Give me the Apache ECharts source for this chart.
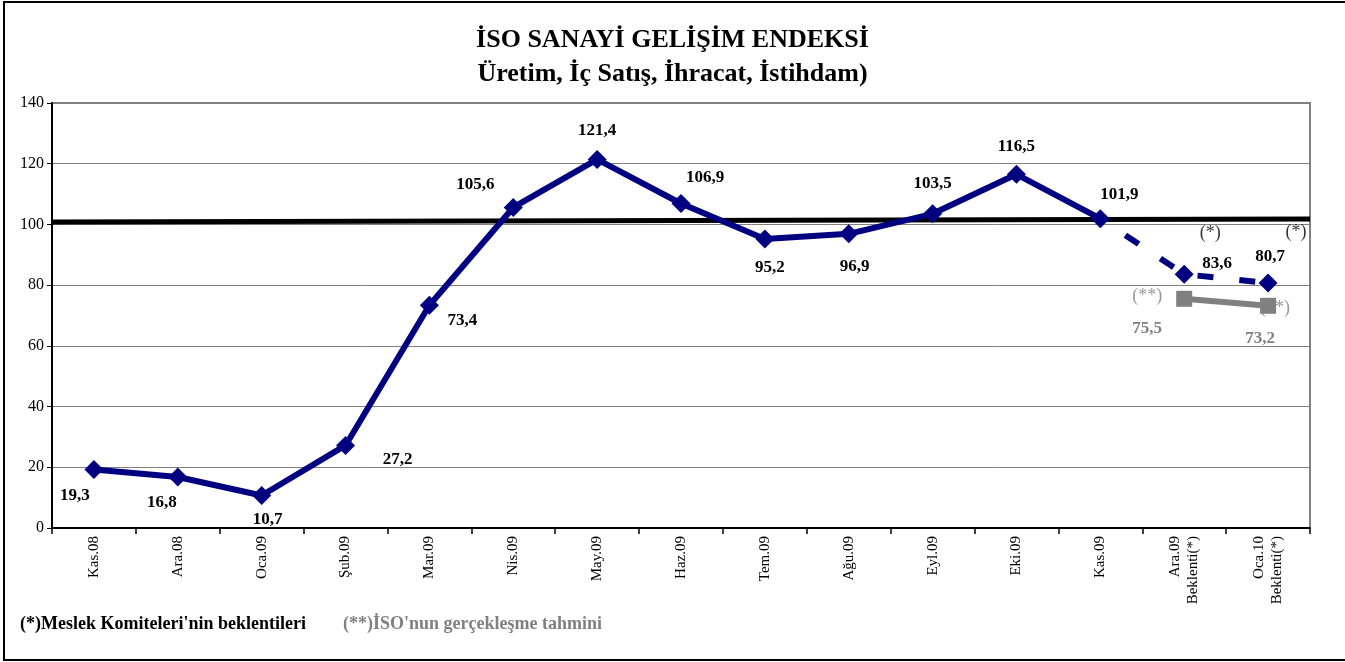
<!DOCTYPE html>
<html>
<head>
<meta charset="utf-8">
<script src="https://cdn.jsdelivr.net/npm/echarts@6/dist/echarts.min.js"></script>
<style>
  html, body { margin: 0; padding: 0; background: #fff; }
  #chart { width: 1345px; height: 662px; }
</style>
</head>
<body>
<div id="chart"></div>
<script>
// kategoriler (x ekseni)
const categories = ['Kas.08', 'Ara.08', 'Oca.09', 'Şub.09', 'Mar.09', 'Nis.09', 'May.09',
  'Haz.09', 'Tem.09', 'Ağu.09', 'Eyl.09', 'Eki.09', 'Kas.09',
  'Ara.09\nBeklenti(*)', 'Oca.10\nBeklenti(*)'];

// gerceklesen endeks degerleri
const actual = [19.3, 16.8, 10.7, 27.2, 73.4, 105.6, 121.4, 106.9, 95.2, 96.9, 103.5, 116.5, 101.9];
// (*) meslek komiteleri beklentileri
const expected = [83.6, 80.7];
// (**) ISO gerceklesme tahmini
const estimate = [75.5, 73.2];
// kalin siyah referans cizgisi (sol, sag)
const refLine = [100.8, 101.8];

const yTicks = { min: 0, max: 140, interval: 20 };

// etiket kaydirmalari (px)
const actualOffsets = [[-19, 26], [-16, 26], [6, 24], [52, 14], [33, 15], [-38, -23], [0, -29],
  [24, -26], [5, 29], [6, 33], [0, -30], [0, -28], [19, -24]];
const expectedOffsets = [[33, -11], [2, -26]];
const estimateOffsets = [[-37, 30], [-8, 33]];
const starOffsets = [[26, -41], [28, -51]];
const star2Offsets = [[-37, -3], [7, 2]];

const NAVY = '#000080';
const GREY = '#808080';
const SERIF = '"Liberation Serif", "Times New Roman", serif';

const fmt = v => v.toFixed(1).replace('.', ',');
const pad = n => Array(n).fill('-');

const nFirst = actual.length;
const nTail = categories.length - nFirst;

const actualData = actual.map((v, i) => ({
  value: v,
  label: { offset: actualOffsets[i] }
})).concat(pad(nTail));

const dashedData = pad(nFirst - 1)
  .concat([{ value: actual[nFirst - 1], symbolSize: 0, label: { show: false } }])
  .concat(expected.map((v, i) => ({ value: v, label: { offset: expectedOffsets[i] } })));

const estimateData = pad(nFirst).concat(estimate.map((v, i) => ({
  value: v,
  label: { offset: estimateOffsets[i] }
})));

const noteStarData = pad(nFirst).concat(expected.map((v, i) => ({
  value: v, label: { offset: starOffsets[i] }
})));
const noteStar2Data = pad(nFirst).concat(estimate.map((v, i) => ({
  value: v, label: { offset: star2Offsets[i] }
})));

const labelBase = {
  show: true,
  position: 'inside',
  fontFamily: SERIF,
  fontWeight: 'bold',
  fontSize: 17,
  color: '#000',
  formatter: p => fmt(p.value)
};

const chart = echarts.init(document.getElementById('chart'));

chart.setOption({
  backgroundColor: '#fff',
  animation: false,
  title: {
    text: 'İSO SANAYİ GELİŞİM ENDEKSİ',
    subtext: 'Üretim, İç Satış, İhracat, İstihdam)',
    left: 'center',
    top: 22,
    itemGap: 8,
    textStyle: { fontFamily: SERIF, fontWeight: 'bold', fontSize: 26, color: '#000' },
    subtextStyle: { fontFamily: SERIF, fontWeight: 'bold', fontSize: 26, color: '#000' }
  },
  graphic: [
    {
      type: 'rect',
      shape: { x: 4, y: 2, width: 1360, height: 658 },
      style: { fill: 'none', stroke: '#000', lineWidth: 2 },
      silent: true
    },
    {
      type: 'text', left: 20, top: 615,
      style: { text: "(*)Meslek Komiteleri'nin beklentileri", font: 'bold 18px ' + SERIF, fill: '#000' }
    },
    {
      type: 'text', left: 343, top: 615,
      style: { text: "(**)İSO'nun gerçekleşme tahmini", font: 'bold 18px ' + SERIF, fill: GREY }
    }
  ],
  grid: {
    left: 52, right: 35, top: 103, bottom: 134,
    show: true, borderColor: GREY, borderWidth: 2, backgroundColor: '#fff'
  },
  xAxis: [
    {
      type: 'category',
      data: categories,
      boundaryGap: true,
      axisLine: { lineStyle: { color: '#000', width: 2 } },
      axisTick: { show: true, length: 6, lineStyle: { color: '#000', width: 1.5 } },
      axisLabel: {
        rotate: 90, margin: 8, interval: 0,
        fontFamily: SERIF, fontSize: 15, color: '#000', lineHeight: 18
      },
      splitLine: { show: false }
    },
    { type: 'value', min: 0, max: 1, show: false }
  ],
  yAxis: {
    type: 'value',
    min: yTicks.min, max: yTicks.max, interval: yTicks.interval,
    axisLine: { show: true, lineStyle: { color: '#000', width: 2 } },
    axisTick: { show: true, length: 5, lineStyle: { color: '#000' } },
    axisLabel: { fontFamily: SERIF, fontSize: 16, color: '#000', margin: 8 },
    splitLine: { lineStyle: { color: GREY, width: 1 } }
  },
  series: [
    {
      name: 'ref',
      type: 'line',
      xAxisIndex: 1,
      data: [[0, refLine[0]], [1, refLine[1]]],
      symbol: 'none',
      lineStyle: { color: '#000', width: 5 },
      z: 1
    },
    {
      name: 'endeks',
      type: 'line',
      data: actualData,
      symbol: 'diamond',
      symbolSize: 19,
      itemStyle: { color: NAVY },
      lineStyle: { color: NAVY, width: 6 },
      label: labelBase,
      z: 3
    },
    {
      name: 'beklenti',
      type: 'line',
      data: dashedData,
      symbol: 'diamond',
      symbolSize: 19,
      itemStyle: { color: NAVY },
      lineStyle: { color: NAVY, width: 6, type: [16, 26], dashOffset: -30 },
      label: labelBase,
      z: 3
    },
    {
      name: 'notlar*',
      type: 'scatter',
      data: noteStarData,
      symbolSize: 0,
      label: {
        show: true, position: 'inside', fontFamily: SERIF, fontSize: 18, color: '#000',
        formatter: '(*)'
      },
      z: 2
    },
    {
      name: 'notlar**',
      type: 'scatter',
      data: noteStar2Data,
      symbolSize: 0,
      label: {
        show: true, position: 'inside', fontFamily: SERIF, fontSize: 18, color: GREY,
        formatter: '(**)'
      },
      z: 2
    },
    {
      name: 'tahmin',
      type: 'line',
      data: estimateData,
      symbol: 'rect',
      symbolSize: 16,
      itemStyle: { color: GREY },
      lineStyle: { color: GREY, width: 6 },
      label: Object.assign({}, labelBase, { color: GREY }),
      z: 4
    }
  ]
});
</script>
</body>
</html>
